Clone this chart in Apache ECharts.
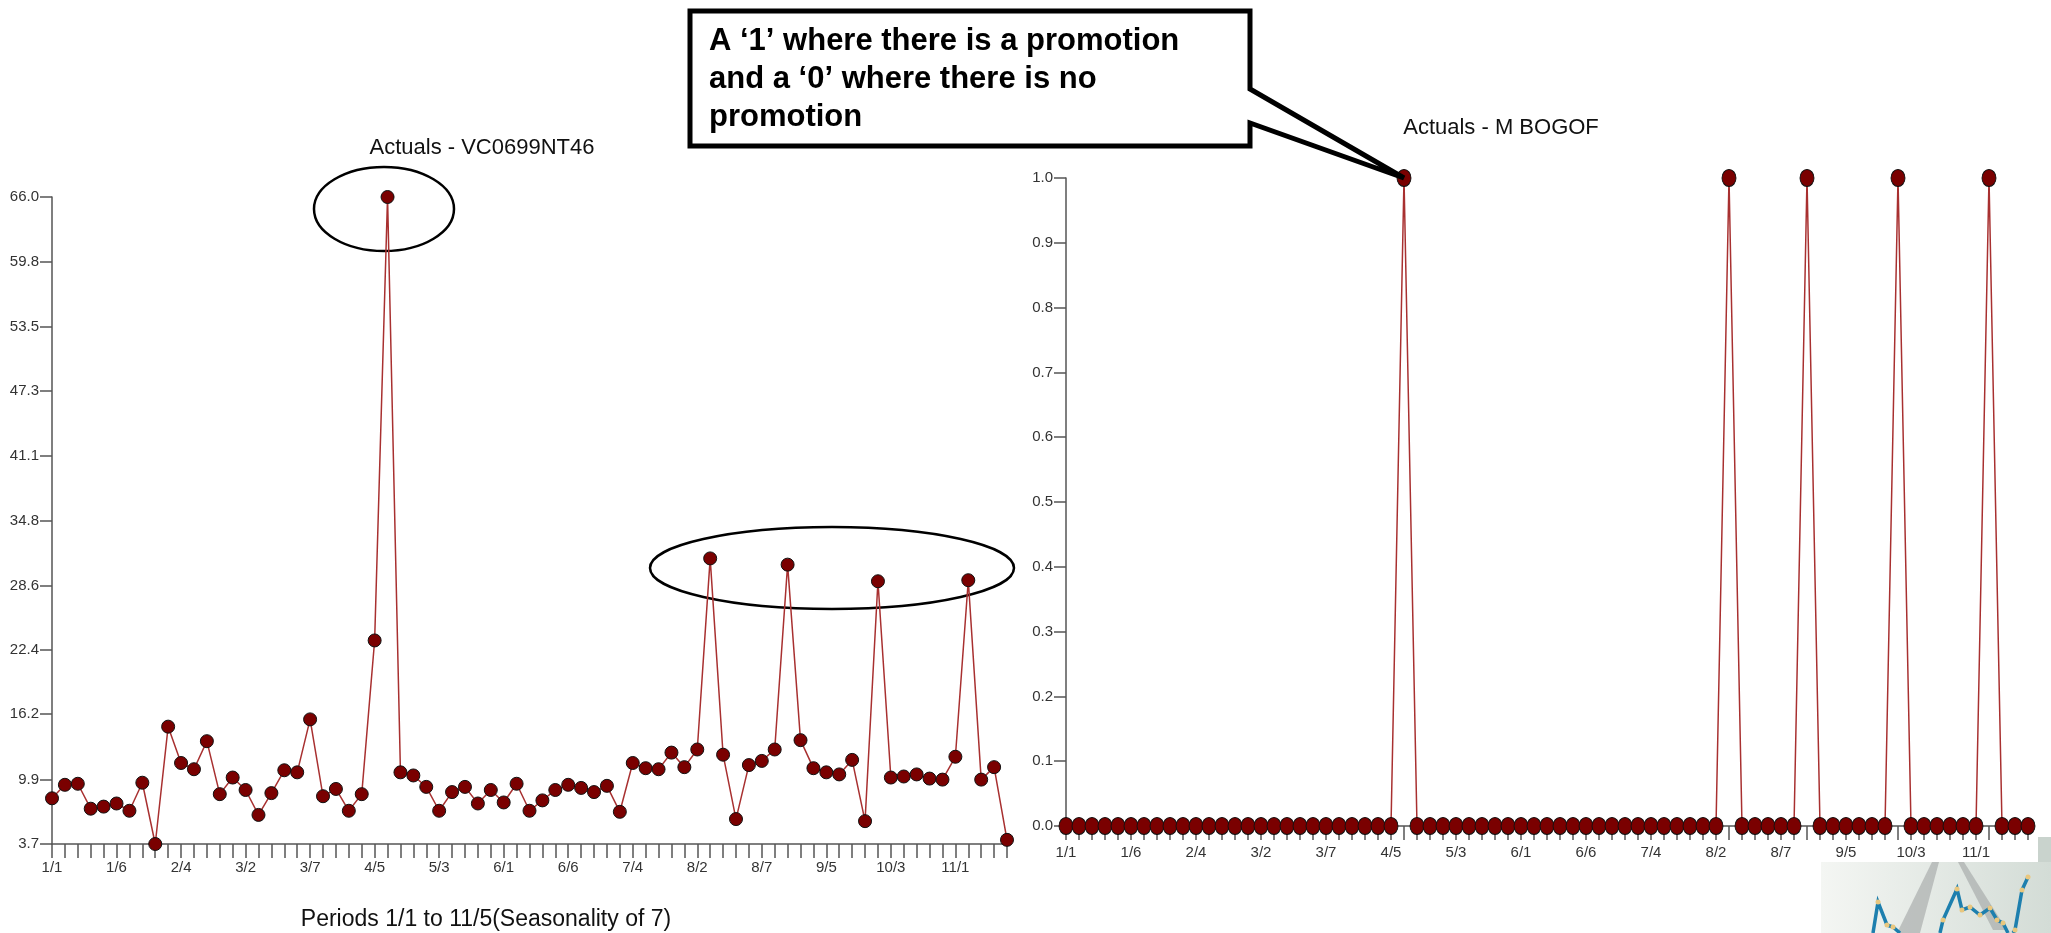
<!DOCTYPE html>
<html>
<head>
<meta charset="utf-8">
<script src="https://cdn.jsdelivr.net/npm/echarts@6/dist/echarts.min.js"></script>
<style>
html, body { margin: 0; padding: 0; background: #fff; }
#main { width: 2051px; height: 933px; }
</style>
</head>
<body>
<div id="main"></div>
<script>
// periods 1/1 .. 11/5, seasonality of 7
var periods = [
  '1/1','1/2','1/3','1/4','1/5','1/6','1/7',
  '2/1','2/2','2/3','2/4','2/5','2/6','2/7',
  '3/1','3/2','3/3','3/4','3/5','3/6','3/7',
  '4/1','4/2','4/3','4/4','4/5','4/6','4/7',
  '5/1','5/2','5/3','5/4','5/5','5/6','5/7',
  '6/1','6/2','6/3','6/4','6/5','6/6','6/7',
  '7/1','7/2','7/3','7/4','7/5','7/6','7/7',
  '8/1','8/2','8/3','8/4','8/5','8/6','8/7',
  '9/1','9/2','9/3','9/4','9/5','9/6','9/7',
  '10/1','10/2','10/3','10/4','10/5','10/6','10/7',
  '11/1','11/2','11/3','11/4','11/5'
];

var actuals = [
  8.1, 9.4, 9.5, 7.1, 7.3, 7.6, 6.9,
  9.6, 3.7, 15.0, 11.5, 10.9, 13.6, 8.5,
  10.1, 8.9, 6.5, 8.6, 10.8, 10.6, 15.7,
  8.3, 9.0, 6.9, 8.5, 23.3, 66.0, 10.6,
  10.3, 9.2, 6.9, 8.7, 9.2, 7.6, 8.9,
  7.7, 9.5, 6.9, 7.9, 8.9, 9.4, 9.1,
  8.7, 9.3, 6.8, 11.5, 11.0, 10.9, 12.5,
  11.1, 12.8, 31.2, 12.3, 6.1, 11.3, 11.7,
  12.8, 30.6, 13.7, 11.0, 10.6, 10.4, 11.8,
  5.9, 29.0, 10.1, 10.2, 10.4, 10.0, 9.9,
  12.1, 29.1, 9.9, 11.1, 4.1
];

var bogof = [
  0, 0, 0, 0, 0, 0, 0,
  0, 0, 0, 0, 0, 0, 0,
  0, 0, 0, 0, 0, 0, 0,
  0, 0, 0, 0, 0, 1, 0,
  0, 0, 0, 0, 0, 0, 0,
  0, 0, 0, 0, 0, 0, 0,
  0, 0, 0, 0, 0, 0, 0,
  0, 0, 1, 0, 0, 0, 0,
  0, 1, 0, 0, 0, 0, 0,
  0, 1, 0, 0, 0, 0, 0,
  0, 1, 0, 0, 0
];

var actualsTicks = [3.7, 9.9, 16.2, 22.4, 28.6, 34.8, 41.1, 47.3, 53.5, 59.8, 66.0];

var leftTitle = 'Actuals - VC0699NT46';
var rightTitle = 'Actuals - M BOGOF';
var xTitle = 'Periods 1/1 to 11/5(Seasonality of 7)';
var calloutText = 'A \u20181\u2019 where there is a promotion\nand a \u20180\u2019 where there is no\npromotion';

var narrow = "'Liberation Sans Narrow', 'Liberation Sans', Arial, sans-serif";
var plain = "'Liberation Sans', Arial, sans-serif";
var axisColor = '#555';
var labelColor = '#333';
var dotColor = '#7a0000';
var lineColor = '#a83030';

function fmt1(v) { return Number(v).toFixed(1); }

function xAxisFor(grid, margin, z) {
  return {
    type: 'category', gridIndex: grid, data: periods, boundaryGap: false, z: z,
    axisLine: { lineStyle: { color: axisColor, width: 1.5 } },
    axisTick: { interval: 0, length: 14, lineStyle: { color: axisColor, width: 1.5 } },
    axisLabel: { interval: 4, margin: margin, fontSize: 15, color: labelColor, fontFamily: narrow }
  };
}

var chart = echarts.init(document.getElementById('main'), null, { renderer: 'canvas' });

chart.setOption({
  animation: false,
  backgroundColor: '#fff',
  grid: [
    { left: 52, right: 1044, top: 197, bottom: 89, containLabel: false },
    { left: 1066, right: 23, top: 178, bottom: 107, containLabel: false }
  ],
  xAxis: [xAxisFor(0, 16, 0), xAxisFor(1, 19, 3)],
  yAxis: [
    {
      type: 'value', gridIndex: 0, min: 3.7, max: 66.0,
      splitLine: { show: false },
      axisLine: { show: true, lineStyle: { color: axisColor, width: 1.5 } },
      axisTick: { show: true, length: 12, customValues: actualsTicks, lineStyle: { color: axisColor, width: 1.5 } },
      axisLabel: { customValues: actualsTicks, formatter: fmt1, margin: 13, fontSize: 15, color: labelColor, fontFamily: narrow }
    },
    {
      type: 'value', gridIndex: 1, min: 0, max: 1, interval: 0.1,
      splitLine: { show: false },
      axisLine: { show: true, lineStyle: { color: axisColor, width: 1.5 } },
      axisTick: { show: true, length: 12, lineStyle: { color: axisColor, width: 1.5 } },
      axisLabel: { formatter: fmt1, margin: 13, fontSize: 15, color: labelColor, fontFamily: narrow }
    }
  ],
  series: [
    {
      type: 'line', xAxisIndex: 0, yAxisIndex: 0, data: actuals,
      symbol: 'circle', symbolSize: 13, showAllSymbol: true,
      itemStyle: { color: dotColor, borderColor: '#111', borderWidth: 1 },
      lineStyle: { color: lineColor, width: 1.5 }
    },
    {
      type: 'line', xAxisIndex: 1, yAxisIndex: 1, data: bogof,
      symbol: 'circle', symbolSize: [14, 17], showAllSymbol: true,
      itemStyle: { color: dotColor, borderColor: '#111', borderWidth: 1 },
      lineStyle: { color: lineColor, width: 1.5 }
    }
  ]
});

// callout pointer goes to the first promotion point
var firstPromo = bogof.indexOf(1);
var tip = chart.convertToPixel({ xAxisIndex: 1, yAxisIndex: 1 }, [firstPromo, 1]);

// corner photo, rough sketch
var photoLines = [
  [[1873, 933], [1878, 902], [1887, 925], [1893, 927], [1900, 933]],
  [[1940, 933], [1943, 920], [1957, 889], [1962, 910], [1970, 907], [1980, 915], [1990, 908], [1997, 920], [2003, 923], [2008, 933]],
  [[2013, 933], [2015, 930], [2022, 890], [2028, 877]]
];
var photo = [
  { type: 'rect', shape: { x: 1821, y: 862, width: 230, height: 71 },
    style: { fill: new echarts.graphic.LinearGradient(0, 0, 1, 0, [
      { offset: 0, color: '#f4f6f3' }, { offset: 1, color: '#d3dcd6' }]) } },
  { type: 'rect', shape: { x: 2038, y: 837, width: 13, height: 25 }, style: { fill: '#c9d3cd' } },
  { type: 'polygon', shape: { points: [[1932, 862], [1939, 862], [1920, 933], [1897, 933]] },
    style: { fill: 'rgba(160,164,164,0.6)' } },
  { type: 'polygon', shape: { points: [[1958, 862], [1964, 862], [2007, 930], [1993, 930]] },
    style: { fill: 'rgba(160,164,164,0.6)' } }
];
photoLines.forEach(function (pts) {
  photo.push({ type: 'polyline', shape: { points: pts }, style: { stroke: '#1d7fae', lineWidth: 3.5, fill: null } });
  pts.forEach(function (p) {
    if (p[1] < 933) photo.push({ type: 'circle', shape: { cx: p[0], cy: p[1], r: 2.5 }, style: { fill: '#e9c77e' } });
  });
});

chart.setOption({
  graphic: photo.concat([
    // chart titles
    { type: 'text', style: { text: leftTitle, x: 482, y: 148, align: 'center', verticalAlign: 'middle',
      fontSize: 22, fontFamily: plain, fill: '#111' } },
    { type: 'text', style: { text: rightTitle, x: 1501, y: 128, align: 'center', verticalAlign: 'middle',
      fontSize: 22, fontFamily: plain, fill: '#111' } },
    { type: 'text', style: { text: xTitle, x: 486, y: 920, align: 'center', verticalAlign: 'middle',
      fontSize: 23, fontFamily: plain, fill: '#111' } },
    // highlight ellipses
    { type: 'ellipse', shape: { cx: 384, cy: 209, rx: 70, ry: 42 },
      style: { fill: null, stroke: '#000', lineWidth: 2.5 } },
    { type: 'ellipse', shape: { cx: 832, cy: 568, rx: 182, ry: 41 },
      style: { fill: null, stroke: '#000', lineWidth: 2.5 } },
    // callout
    { type: 'polygon', z: 10,
      shape: { points: [[690, 11], [1250, 11], [1250, 89], tip, [1250, 123], [1250, 146], [690, 146]] },
      style: { fill: '#fff', stroke: '#000', lineWidth: 5, lineJoin: 'miter' } },
    { type: 'text', z: 11, style: { text: calloutText, x: 709, y: 22, verticalAlign: 'top', lineHeight: 38,
      fontSize: 31, fontWeight: 'bold', fontFamily: plain, fill: '#000' } }
  ])
});
</script>
</body>
</html>
